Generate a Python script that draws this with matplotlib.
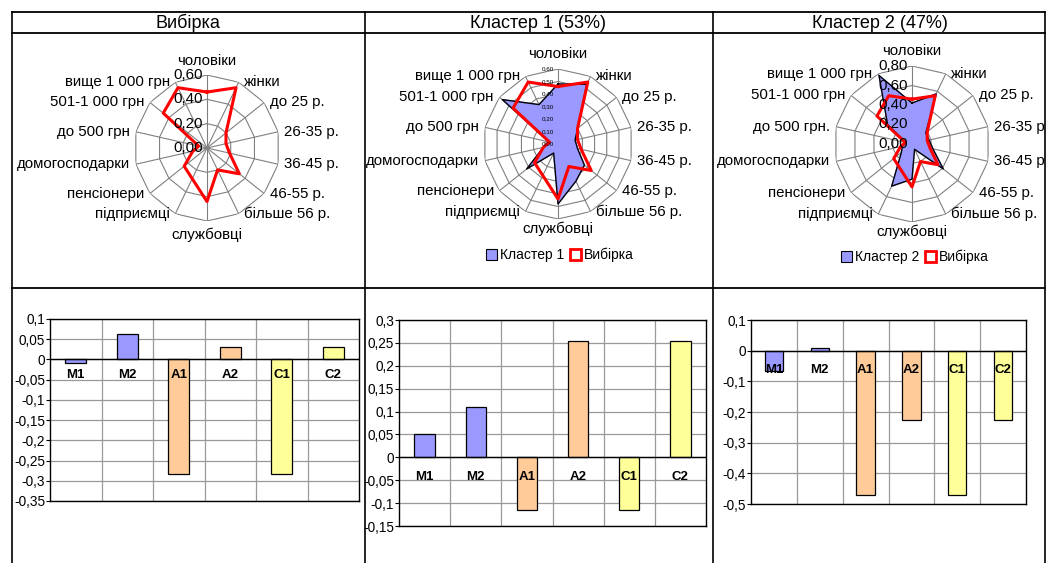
import numpy as np
import matplotlib
matplotlib.use("Agg")
import matplotlib.pyplot as plt
from matplotlib.patches import Patch

plt.rcParams['font.family'] = ['Liberation Sans', 'DejaVu Sans']

W, H = 1046, 563
DPI = 100

# ---- data ----
categories = ["чоловіки", "жінки", "до 25 р.", "26-35 р.", "36-45 р.", "46-55 р.",
              "більше 56 р.", "службовці", "підприємці", "пенсіонери",
              "домогосподарки", "до 500 грн", "501-1 000 грн", "вище 1 000 грн"]
categories_c2 = categories[:11] + ["до 500 грн.", "501-1 000 грн", "вище 1 000 грн"]
sample = [0.46, 0.55, 0.20, 0.16, 0.19, 0.34, 0.20, 0.44, 0.28, 0.24, 0.12, 0.07, 0.46, 0.55]
cluster1 = [0.48, 0.53, 0.20, 0.14, 0.16, 0.27, 0.33, 0.48, 0.08, 0.32, 0.12, 0.07, 0.57, 0.35]
cluster2 = [0.42, 0.57, 0.18, 0.18, 0.22, 0.41, 0.06, 0.36, 0.48, 0.14, 0.10, 0.06, 0.32, 0.78]

headers = ["Вибірка", "Кластер 1 (53%)", "Кластер 2 (47%)"]
bar_labels = ["M1", "M2", "A1", "A2", "C1", "C2"]
bars_sample = [-0.009, 0.063, -0.284, 0.031, -0.284, 0.031]
bars_c1 = [0.050, 0.109, -0.116, 0.255, -0.116, 0.255]
bars_c2 = [-0.067, 0.009, -0.470, -0.227, -0.470, -0.227]
bar_colors = ["#9999FF", "#9999FF", "#FFCC99", "#FFCC99", "#FFFF99", "#FFFF99"]

fig = plt.figure(figsize=(W / DPI, H / DPI), dpi=DPI)


def px_axes(x0, y0, w, h, **kw):
    """Axes positioned in pixel units measured from the top-left corner."""
    return fig.add_axes([x0 / W, 1 - (y0 + h) / H, w / W, h / H], **kw)


def comma(v, nd=None):
    if abs(v) < 1e-9:
        v = 0.0
    s = f"{v:.{nd}f}" if nd is not None else ("%g" % round(v, 3))
    return s.replace(".", ",")


# ---- table frame ----
frame = fig.add_axes([0, 0, 1, 1])
frame.set_xlim(0, W)
frame.set_ylim(H, 0)
frame.axis("off")
for x in (12, 365, 713, 1045):
    frame.plot([x, x], [12, H], color="black", lw=1.2)
for y in (12, 33, 288):
    frame.plot([12, 1045], [y, y], color="black", lw=1.3)
for xc, t in zip((188, 538, 880), headers):
    frame.text(xc, 23, t, ha="center", va="center", fontsize=13)


# ---- radar charts ----
def radar(cx, cy, R, rmax, nrings, values, names, ticks, tick_size, top_gap=4, bottom_gap=4):
    ax = px_axes(cx - R, cy - R, 2 * R, 2 * R, projection="polar")
    ax.set_theta_zero_location("N")
    ax.set_theta_direction(-1)
    ax.set_ylim(0, rmax)
    ax.grid(False)
    ax.set_xticks([])
    ax.set_yticks([])
    ax.spines["polar"].set_visible(False)
    ax.patch.set_alpha(0)
    n = len(names)
    th = np.linspace(0, 2 * np.pi, n, endpoint=False)
    thc = np.append(th, th[0])
    for rv in np.linspace(0, rmax, nrings + 1)[1:]:
        ax.plot(thc, [rv] * (n + 1), color="#808080", lw=0.8)
    for t in th:
        ax.plot([t, t], [0, rmax], color="#808080", lw=0.8)
    if values is not None:
        v = np.append(values, values[0])
        ax.fill(thc, v, color="#9999FF", zorder=3)
        ax.plot(thc, v, color="black", lw=1.0, zorder=4)
    s = np.append(sample, sample[0])
    ax.plot(thc, s, color="#FF0000", lw=2.2, zorder=5)
    # radial value labels along the top spoke
    for rv in ticks:
        ax.annotate(comma(rv, 2), xy=(0, rv), xytext=(-3, 0), textcoords="offset points",
                    ha="right", va="center", fontsize=tick_size, zorder=6)
    # category labels
    for t, name in zip(th, names):
        deg = np.degrees(t) % 360
        if deg < 1:
            ha, va, off = "center", "bottom", (0, top_gap)
        elif abs(deg - 180) < 1:
            ha, va, off = "center", "top", (0, -bottom_gap)
        elif deg < 180:
            ha, va, off = "left", "center", (4, 0)
        else:
            ha, va, off = "right", "center", (-4, 0)
        ax.annotate(name, xy=(t, rmax), xytext=off, textcoords="offset points",
                    ha=ha, va=va, fontsize=10.8)
    return ax


radar(207, 148, 73, 0.6, 3, None, categories, [0.0, 0.2, 0.4, 0.6], 10.8,
      top_gap=5, bottom_gap=5)
radar(558, 144, 75, 0.6, 6, cluster1, categories,
      list(np.round(np.arange(0, 0.61, 0.1), 2)), 4.5, top_gap=6, bottom_gap=2)
radar(912, 144, 78, 0.8, 4, cluster2, categories_c2, [0.0, 0.2, 0.4, 0.6, 0.8], 10.8,
      top_gap=6, bottom_gap=2)

# legends for cluster radars
for (x0, y0, lab) in ((470, 245, "Кластер 1"), (825, 247, "Кластер 2")):
    lax = px_axes(x0, y0, 180, 20)
    lax.axis("off")
    handles = [Patch(facecolor="#9999FF", edgecolor="black", lw=0.8),
               Patch(facecolor="white", edgecolor="#FF0000", lw=2)]
    lax.legend(handles, [lab, "Вибірка"], loc="center", ncol=2, frameon=False,
               fontsize=10, handlelength=0.8, handleheight=0.8, handletextpad=0.2,
               columnspacing=0.4)


# ---- bar charts ----
def bars(box, values, ylim, step, label_y_offset):
    x0, y0, x1, y1 = box
    ax = px_axes(x0, y0, x1 - x0, y1 - y0)
    x = np.arange(len(values))
    ax.bar(x, values, width=0.4, color=bar_colors, edgecolor="black", lw=0.9, zorder=3)
    ax.set_xlim(-0.5, len(values) - 0.5)
    ax.set_ylim(*ylim)
    ticks = np.arange(ylim[0], ylim[1] + step / 2, step)
    ax.set_yticks(ticks)
    ax.set_yticklabels([comma(t) for t in ticks], fontsize=9.8)
    ax.set_xticks([])
    for b in np.arange(0.5, len(values) - 0.5, 1.0):
        ax.axvline(b, color="#999999", lw=0.9, zorder=1)
    for t in ticks:
        ax.axhline(t, color="#999999", lw=0.9, zorder=1)
    ax.axhline(0, color="black", lw=1.0, zorder=4)
    for xi, lab in zip(x, bar_labels):
        ax.annotate(lab, xy=(xi, 0), xytext=(0, -label_y_offset), textcoords="offset points",
                    ha="center", va="center", fontsize=9.5, fontweight="bold", zorder=5)
    for sp in ax.spines.values():
        sp.set_color("black")
        sp.set_linewidth(1.0)
    ax.tick_params(axis="y", length=3, pad=0.5)
    return ax


bars((50, 319, 359, 501), bars_sample, (-0.35, 0.1), 0.05, 11)
bars((399, 320, 706, 526), bars_c1, (-0.15, 0.3), 0.05, 14)
bars((751, 320, 1026, 504), bars_c2, (-0.5, 0.1), 0.1, 14)

fig.savefig("out.png", dpi=DPI)
